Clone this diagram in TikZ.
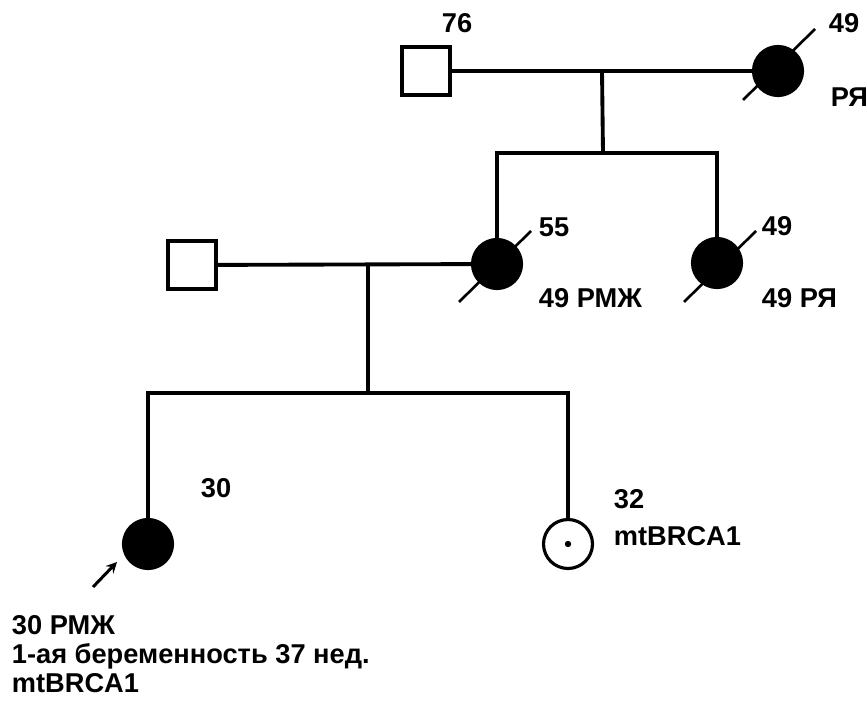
\documentclass[tikz,border=0pt]{standalone}
\usepackage{fontspec}
\setmainfont{Liberation Sans}
\usetikzlibrary{calc}

\begin{document}
\begin{tikzpicture}[x=0.02cm, y=-0.02cm, line width=2.2pt,
    male/.style={draw, rectangle, line width=1.8pt, minimum size=0.96cm, inner sep=0pt},
    female/.style={draw, circle, line width=1.8pt, minimum size=0.98cm, inner sep=0pt},
    affected/.style={female, fill=black},
    slash/.style={line width=1.5pt},
    lbl/.style={anchor=base west, inner sep=0pt, font=\fontsize{15.5}{16}\selectfont\bfseries},
    probarrow/.style={->, >=stealth, line width=1.7pt}]
    \useasboundingbox (0,0) rectangle (868,709);
    % persons
    \node[male] (gf) at (426,71) {};
    \node[affected] (gm) at (778,71) {};
    \node[male] (fa) at (192,265) {};
    \node[affected] (mo) at (497,264) {};
    \node[affected] (au) at (717,263) {};
    \node[affected] (pr) at (148,544) {};
    \node[female] (si) at (568,544) {};
    \fill (si) circle (3.2);
    % lines of descent
    \coordinate (m1) at ($(gf)!0.5!(gm)$);
    \coordinate (sib1) at (603,153);
    \coordinate (m2) at (368,265);
    \coordinate (sib2) at (368,393);
    \draw (gf) -- (gm);
    \draw (m1) -- (sib1);
    \draw (mo.north) |- (sib1) -| (au.north);
    \draw (fa) -- (mo);
    \draw (m2) -- (sib2);
    \draw (pr.north) |- (sib2) -| (si.north);
    % deceased
    \draw[slash] ($(gm)+(-35,29)$) -- ($(gm)+(37,-42)$);
    \draw[slash] ($(mo)+(-38,38)$) -- ($(mo)+(34,-33)$);
    \draw[slash] ($(au)+(-33,39)$) -- ($(au)+(39,-32)$);
    % proband
    \coordinate (arr) at (93,587);
    \draw[probarrow] (arr) -- (117,562);
    % labels
    \node[lbl] (l76) at (440,33) {76};
    \node[lbl] (l49a) at (827,33) {49};
    \node[lbl] (lrya) at (829,107) {РЯ};
    \node[lbl] (l55) at (537,237) {55};
    \node[lbl] (lrmz) at (537,308) {49 РМЖ};
    \node[lbl] (l49b) at (760,236) {49};
    \node[lbl] (lryb) at (760,308) {49 РЯ};
    \node[lbl] (l30) at (199,497) {30};
    \node[lbl] (l32) at (612,508) {32};
    \node[lbl] (lbrca) at (612,545) {mtBRCA1};
    \node[lbl, align=left, anchor=north west, font=\fontsize{15.5}{16.5}\selectfont\bfseries] (lpr) at (10,614)
        {30 РМЖ\\1-ая беременность 37 нед.\\mtBRCA1};
\end{tikzpicture}
\end{document}
